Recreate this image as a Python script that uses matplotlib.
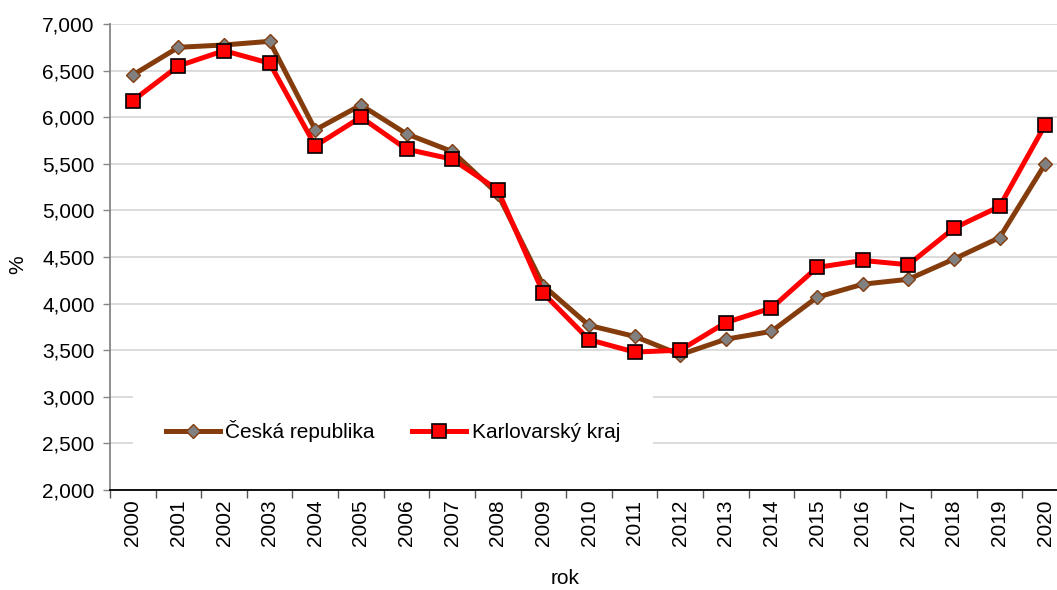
import matplotlib
matplotlib.use('Agg')
import matplotlib.pyplot as plt
from matplotlib.ticker import FuncFormatter, MultipleLocator

plt.rcParams['font.family'] = ['Liberation Sans', 'DejaVu Sans']

# data
years = [str(y) for y in range(2000, 2021)]
ceska_republika = [6.453, 6.750, 6.775, 6.814, 5.864, 6.130, 5.821, 5.632, 5.177, 4.192,
                   3.766, 3.648, 3.452, 3.618, 3.702, 4.068, 4.208, 4.261, 4.478, 4.708, 5.499]
karlovarsky_kraj = [6.178, 6.550, 6.714, 6.579, 5.692, 6.000, 5.657, 5.550, 5.220, 4.110,
                    3.613, 3.480, 3.500, 3.797, 3.952, 4.388, 4.463, 4.417, 4.809, 5.042, 5.918]

BROWN = '#843C0C'
FS = 15

fig = plt.figure(figsize=(10.57, 5.90), dpi=100)
ax = fig.add_axes([110 / 1057, 1 - 490 / 590, 958 / 1057, 466 / 590])

x = list(range(len(years)))
ax.plot(x, ceska_republika, color=BROWN, lw=3.6, marker='D', markersize=6.8,
        markerfacecolor='#808080', markeredgecolor=BROWN, markeredgewidth=1.0,
        label='Česká republika', zorder=3)
ax.plot(x, karlovarsky_kraj, color='#FF0000', lw=3.6, marker='s', markersize=9.5,
        markerfacecolor='#FF0000', markeredgecolor='black', markeredgewidth=1.2,
        label='Karlovarský kraj', zorder=4)

ax.set_xlim(-0.5, len(years) - 0.5)
ax.set_ylim(2.0, 7.0)
ax.yaxis.set_major_locator(MultipleLocator(0.5))
ax.yaxis.set_major_formatter(FuncFormatter(lambda v, p: f'{v:.3f}'.replace('.', ',')))
ax.grid(axis='y', color='#d9d9d9', lw=1.3, zorder=0)
ax.set_axisbelow(True)

# category axis: labels centered, ticks between categories
ax.set_xticks(x)
ax.set_xticklabels(years, rotation=90, fontsize=FS)
ax.set_xticks([i - 0.5 for i in range(len(years) + 1)], minor=True)
ax.tick_params(axis='x', which='major', length=0, pad=7)
ax.tick_params(axis='x', which='minor', length=6, width=1, color='#555555', direction='out')
ax.tick_params(axis='y', labelsize=FS, length=5, width=1, color='#868686', pad=6)

for s in ['top', 'right']:
    ax.spines[s].set_visible(False)
ax.spines['left'].set_color('#868686')
ax.spines['left'].set_linewidth(1.3)
ax.spines['bottom'].set_color('black')
ax.spines['bottom'].set_linewidth(1.3)

fig.text(18 / 1057, 1 - 265 / 590, '%', rotation=90, fontsize=FS, ha='center', va='center')
fig.text(565 / 1057, 1 - 578 / 590, 'rok', fontsize=FS, ha='center', va='center')

leg = ax.legend(loc='center', bbox_to_anchor=(393 / 1057, 1 - 431 / 590),
                bbox_transform=fig.transFigure, ncol=2, fontsize=FS,
                frameon=True, fancybox=False, framealpha=1, facecolor='white',
                edgecolor='none', handlelength=2.6, handletextpad=0.25,
                columnspacing=1.8, borderpad=1.6)
leg.set_zorder(5)

fig.savefig('out.png', dpi=100)
